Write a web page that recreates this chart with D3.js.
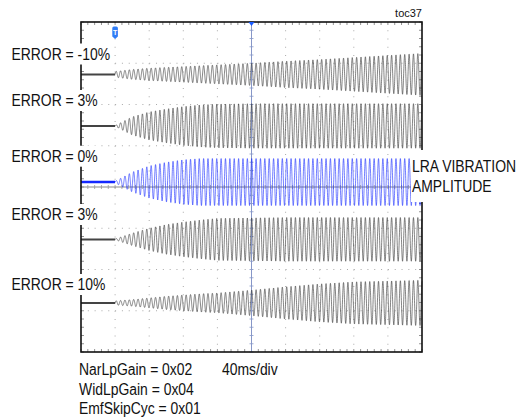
<!DOCTYPE html>
<html>
<head>
<meta charset="utf-8">
<script src="https://cdn.jsdelivr.net/npm/d3@7"></script>
<style>
  html, body { margin: 0; padding: 0; background: #fff; }
  svg { display: block; }
  text { font-family: Arial, "Liberation Sans", sans-serif; fill: #111; }
</style>
</head>
<body>
<svg id="chart" width="523" height="417"></svg>
<script>
// ---------------- data ----------------
const timeDomainMs = [-200, 200];          // 10 div x 40 ms/div
const voltDomainDiv = [-4, 4];             // 8 vertical divisions
const burstStartMs = -160;                 // drive starts at trigger
const carrierHz = 195;                     // LRA resonance (approx.)

const envelopeTimeMs = [-160, -140, -120, -100, -80, -60, -40, 0, 40, 80, 120, 160, 200];

const traceLabels = ["ERROR = -10%", "ERROR = 3%", "ERROR = 0%", "ERROR = 3%", "ERROR = 10%"];
const channelOffsetDiv = [2.73, 1.48, 0.12, -1.27, -2.81];

// envelope amplitude in divisions at envelopeTimeMs
const envErrMinus10 = [0.07, 0.12, 0.15, 0.17, 0.19, 0.21, 0.23, 0.27, 0.32, 0.36, 0.41, 0.46, 0.51];
const envErr3a      = [0.01, 0.22, 0.34, 0.41, 0.47, 0.51, 0.53, 0.54, 0.54, 0.54, 0.54, 0.54, 0.54];
const envErr0       = [0.02, 0.24, 0.39, 0.48, 0.54, 0.57, 0.57, 0.57, 0.57, 0.57, 0.57, 0.57, 0.57];
const envErr3b      = [0.01, 0.15, 0.27, 0.36, 0.42, 0.47, 0.51, 0.52, 0.53, 0.53, 0.53, 0.53, 0.53];
const envErr10      = [0.05, 0.08, 0.12, 0.16, 0.19, 0.22, 0.24, 0.31, 0.39, 0.46, 0.51, 0.53, 0.55];
const envelopes = [envErrMinus10, envErr3a, envErr0, envErr3b, envErr10];

const sideLabel = ["LRA VIBRATION", "AMPLITUDE"];
const cornerTag = "toc37";
const settingsText = ["NarLpGain = 0x02", "WidLpGain = 0x04", "EmfSkipCyc = 0x01"];
const timebaseText = "40ms/div";

// ---------------- drawing ----------------
const svg = d3.select("#chart");
const L = 81, R = 422, T = 22, B = 352;
const x = d3.scaleLinear().domain(timeDomainMs).range([L, R]);
const y = d3.scaleLinear().domain(voltDomainDiv).range([B, T]);

const traceColors = ["#333", "#333", "#1428ff", "#333", "#333"];

// grid
const gx = d3.range(-160, 200, 40);
const gy = d3.range(-3, 4, 1);
const grid = svg.append("g");
grid.selectAll("line.v").data(gx.filter(d => d !== 0)).join("line")
  .attr("x1", d => x(d)).attr("x2", d => x(d)).attr("y1", T).attr("y2", B)
  .attr("stroke", "#aaa").attr("stroke-width", 1)
  .attr("stroke-dasharray", "1 7.25");
grid.selectAll("line.h").data(gy.filter(d => d !== 0)).join("line")
  .attr("x1", L).attr("x2", R).attr("y1", d => y(d)).attr("y2", d => y(d))
  .attr("stroke", "#aaa").attr("stroke-width", 1)
  .attr("stroke-dasharray", "1 5.82");

// minor ticks along border and centre lines
const minorX = d3.range(-200, 200.01, 8);
const minorY = d3.range(-4, 4.01, 0.2);
grid.selectAll("line.tt").data(minorX).join("line")
  .attr("x1", d => x(d)).attr("x2", d => x(d)).attr("y1", T).attr("y2", T + 3)
  .attr("stroke", "#777").attr("stroke-width", 0.8);
grid.selectAll("line.tb").data(minorX).join("line")
  .attr("x1", d => x(d)).attr("x2", d => x(d)).attr("y1", B).attr("y2", B - 3)
  .attr("stroke", "#777").attr("stroke-width", 0.8);
grid.selectAll("line.tl").data(minorY).join("line")
  .attr("x1", L).attr("x2", L + 3).attr("y1", d => y(d)).attr("y2", d => y(d))
  .attr("stroke", "#777").attr("stroke-width", 0.8);
grid.selectAll("line.tr").data(minorY).join("line")
  .attr("x1", R).attr("x2", R - 3).attr("y1", d => y(d)).attr("y2", d => y(d))
  .attr("stroke", "#777").attr("stroke-width", 0.8);

// centre horizontal (grey) line with ticks
grid.append("line").attr("x1", L).attr("x2", R).attr("y1", y(0)).attr("y2", y(0))
  .attr("stroke", "#8a8a8a").attr("stroke-width", 1.2);
grid.selectAll("line.ch").data(minorX).join("line")
  .attr("x1", d => x(d)).attr("x2", d => x(d)).attr("y1", y(0) - 2).attr("y2", y(0) + 2)
  .attr("stroke", "#999").attr("stroke-width", 0.8);

// traces
const traces = svg.append("g");
const step = 0.1;
envelopes.forEach((env, i) => {
  const ampAt = d3.scaleLinear().domain(envelopeTimeMs).range(env).clamp(true);
  const off = channelOffsetDiv[i];
  const pts = [];
  for (let t = burstStartMs; t <= timeDomainMs[1]; t += step) {
    const a = ampAt(t);
    pts.push([t, off + a * Math.sin(2 * Math.PI * carrierHz * (t - burstStartMs) / 1000)]);
  }
  const line = d3.line().x(d => x(d[0])).y(d => y(d[1]));
  traces.append("path").datum(pts)
    .attr("d", line).attr("fill", "none")
    .attr("stroke", traceColors[i]).attr("stroke-width", 0.6);
  // flat pre-trigger segment
  traces.append("line")
    .attr("x1", x(timeDomainMs[0])).attr("x2", x(burstStartMs))
    .attr("y1", y(off)).attr("y2", y(off))
    .attr("stroke", i === 2 ? "#1428ff" : "#444")
    .attr("stroke-width", i === 2 ? 2.6 : 2);
});

// centre vertical (blue-grey) line with ticks
grid.raise();
svg.append("line").attr("x1", x(0)).attr("x2", x(0)).attr("y1", T).attr("y2", B)
  .attr("stroke", "#8797c8").attr("stroke-width", 1);
svg.selectAll("line.cv").data(minorY).join("line")
  .attr("x1", x(0) - 2).attr("x2", x(0) + 2).attr("y1", d => y(d)).attr("y2", d => y(d))
  .attr("stroke", "#8797c8").attr("stroke-width", 0.8);
traces.raise();

// frame
svg.append("rect").attr("x", L).attr("y", T).attr("width", R - L).attr("height", B - T)
  .attr("fill", "none").attr("stroke", "#111").attr("stroke-width", 1.6);

// trigger & centre markers
const trigX = x(burstStartMs);
svg.append("path")
  .attr("d", `M${trigX - 2.8},${28} Q${trigX - 2.8},${26.5} ${trigX - 1.3},${26.5} L${trigX + 1.3},${26.5} Q${trigX + 2.8},${26.5} ${trigX + 2.8},${28} L${trigX + 2.8},${36.5} L${trigX},${39} L${trigX - 2.8},${36.5} Z`)
  .attr("fill", "#2f7cf6");
svg.append("text").attr("x", trigX).attr("y", 34.5).attr("text-anchor", "middle")
  .style("font-size", "7px").style("font-weight", "bold").style("fill", "#fff").text("T");
svg.append("path")
  .attr("d", `M${x(0) - 3},${T} L${x(0) + 3},${T} L${x(0)},${T + 4} Z`)
  .attr("fill", "#1a5cff");

// left labels with white backgrounds
const labelBaselines = [59.5, 106, 161.7, 220, 290];
const sx = 0.87;
traceLabels.forEach((lab, i) => {
  const by = labelBaselines[i];
  const g = svg.append("g");
  const t = g.append("text")
    .attr("transform", `translate(11.5,${by}) scale(${sx},1)`)
    .style("font-size", "16px").text(lab);
  const w = t.node().getComputedTextLength() * sx;
  g.insert("rect", "text").attr("x", 8).attr("y", by - 16).attr("width", w + 6).attr("height", 21)
    .attr("fill", "#fff");
});

// right-side label
const sg = svg.append("g");
sg.append("rect").attr("x", 411).attr("y", 150).attr("width", 112).attr("height", 52).attr("fill", "#fff");
sideLabel.forEach((s, i) => {
  sg.append("text").attr("transform", `translate(412,${171.7 + i * 20.6}) scale(${sx},1)`)
    .style("font-size", "16px").text(s);
});

// corner tag
svg.append("text").attr("x", 422).attr("y", 16.5).attr("text-anchor", "end")
  .style("font-size", "11px").text(cornerTag);

// bottom texts
settingsText.forEach((s, i) => {
  svg.append("text").attr("transform", `translate(79,${375.3 + i * 19.4}) scale(${sx},1)`)
    .style("font-size", "16px").text(s);
});
svg.append("text").attr("transform", `translate(222,375.3) scale(${sx},1)`)
  .style("font-size", "16px").text(timebaseText);
</script>
</body>
</html>
